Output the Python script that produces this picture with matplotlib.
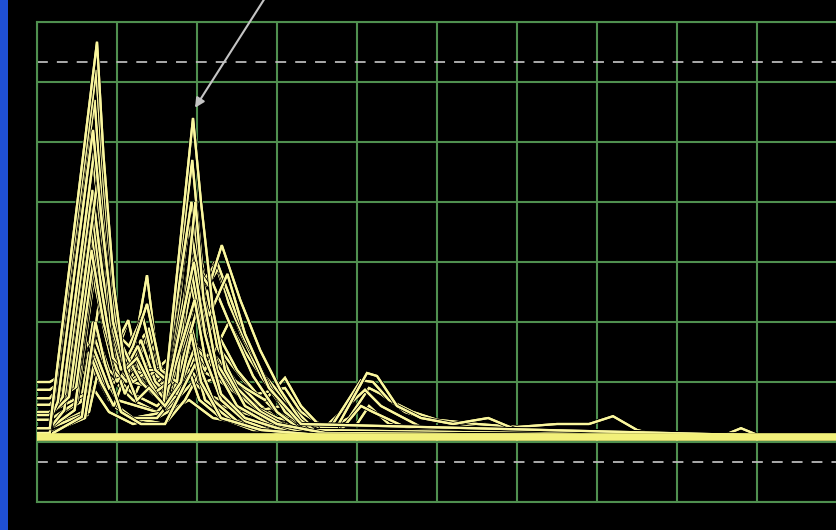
import matplotlib
matplotlib.use("Agg")
import matplotlib.pyplot as plt
import matplotlib.patheffects as pe
from matplotlib.patches import Rectangle

# ---- data (frequency bins 0..100, amplitude 0..80; 10 units per grid division) ----
baseline_level = 10.8
ref_levels = [73.3, 6.7]

t01_f = [0, 1.6, 7.5, 8.3, 9.6, 11, 12.5, 14, 16, 18, 19.3, 20.5, 23, 28, 35, 100]
t01_a = [12.3, 12.3, 76.7, 58, 36, 22, 17, 19, 16, 20, 28, 20, 14, 12, 11.2, 10.8]

t02_f = [0, 1.6, 2.6, 7.0, 8.0, 9.5, 11, 12.5, 14, 15.8, 19.5, 20.5, 22, 23.5, 26, 30, 36, 100]
t02_a = [13.7, 13.7, 16.7, 62, 48, 30, 22, 24, 20, 16, 64, 50, 32, 22, 16, 13, 11.5, 10.8]

t03_f = [0, 1.6, 7.4, 8.4, 10, 11.4, 13, 14.5, 16.5, 19.6, 21, 23, 26, 32, 100]
t03_a = [11.5, 11.5, 72, 52, 28, 24, 20, 18, 20, 40, 28, 18, 14, 11.5, 10.8]

t04_f = [0, 1.6, 3.5, 6.9, 8.2, 10, 12, 14, 16.2, 19.3, 20.5, 21.5, 23.1, 25.4, 27.9, 30.4, 32.9, 35.4, 100]
t04_a = [15, 15, 18, 52, 38, 24, 20, 22, 22, 50, 38, 36, 42.8, 33.7, 25.3, 18.7, 13.7, 11.2, 10.8]

t05_f = [0, 1.6, 3.3, 7.0, 8.5, 10.2, 12, 14, 16.5, 19.0, 20.3, 22.5, 25, 28, 31, 34, 100]
t05_a = [16.2, 16.2, 19.2, 57, 40, 26, 22, 21, 24, 46, 36, 40, 31, 22, 15, 12, 10.8]

t06_f = [0, 1.6, 4.0, 6.6, 8, 9.8, 11.4, 13, 15, 17, 18.9, 20, 21.8, 24, 27, 30, 33, 100]
t06_a = [17.3, 17.3, 20.3, 46, 36, 24, 30.3, 22, 19, 22, 38, 32, 37, 30, 21, 15, 12, 10.8]

t07_f = [0, 1.6, 4.45, 6.8, 8.3, 10, 11.2, 12.2, 13.75, 15.2, 16.5, 19.1, 20.5, 22, 25, 29, 34, 100]
t07_a = [16.2, 16.2, 19.2, 42, 30, 22, 20, 26, 37.8, 22, 19, 40, 30, 24, 18, 14, 11.5, 10.8]

t08_f = [0, 1.6, 3.4, 7.0, 8.4, 9.8, 11.4, 12.8, 14.5, 16, 19.4, 20.6, 22.5, 25, 28, 32, 100]
t08_a = [17.3, 17.3, 20.3, 57, 40, 26, 30.3, 22, 19, 20, 57, 40, 26, 19, 15, 12, 10.8]

t09_f = [0, 1.6, 7.2, 8.2, 9.6, 11, 12.6, 14.3, 16, 19.7, 21, 23, 26, 30, 100]
t09_a = [11.5, 11.5, 67, 48, 28, 22, 26, 20, 17, 33.7, 24, 17, 13.5, 11.5, 10.8]

t10_f = [0, 1.6, 4.5, 7.0, 8.3, 9.8, 11.5, 13.5, 15.5, 17, 19.6, 21, 23, 26, 28.5, 31, 33, 35.5, 37.5,
         41.25, 42.5, 45, 48, 52, 56.4, 60, 100]
t10_a = [18.7, 18.7, 21.7, 46, 34, 24, 20, 22, 18, 20, 38, 28, 22, 19, 17, 20.7, 16, 12.5, 12.5,
         21.5, 21, 16, 14, 13, 14, 12, 10.8]

t11_f = [0, 1.6, 5.4, 7.2, 8.5, 10, 12, 14.5, 17, 20.2, 22, 24, 27, 30, 34, 36.5, 40.5, 42, 44, 47, 50,
         55, 60, 65, 69, 72, 75, 78, 100]
t11_a = [20, 20, 23, 40, 30, 21, 22, 18, 18, 33, 24, 19, 16, 14, 13, 12, 20.3, 20, 17, 15, 13.7,
         13, 12.5, 13, 13, 14.3, 12, 11, 10.8]

t12_f = [0, 1.6, 3.4, 6.8, 8, 9.5, 11, 13, 14.8, 16.4, 19.3, 20.3, 21.3, 22.7, 24, 26, 28.5, 31, 34, 100]
t12_a = [12.3, 12.3, 15.3, 50, 36, 24, 22, 27, 20, 18, 50, 40, 36, 39, 33, 27, 21, 17, 13, 10.8]

t13_f = [0, 1.6, 5.6, 7.3, 8.5, 10.5, 13, 16, 19.8, 21, 24, 28, 34, 38, 40.5, 42, 46, 52, 100]
t13_a = [10.8, 11.2, 14.2, 30, 23, 15, 13, 13, 23, 17, 14, 12.5, 11.5, 12, 16, 15, 12.5, 11.5, 10.8]

t14_f = [0, 1.6, 5.0, 7.6, 8.8, 10.2, 12, 13.5, 15, 17, 20, 21.2, 23, 25, 27.5, 31, 33, 36, 41, 43, 48, 100]
t14_a = [13.7, 13.7, 16.7, 42, 33, 22, 25, 28, 21, 19, 35, 30, 27, 22, 18, 19, 15, 12.5, 18.7, 16, 12.5, 10.8]

t15_f = [0, 1.6, 6.1, 7.8, 9.2, 11, 12.8, 14, 15.5, 17.5, 19.5, 21, 22.5, 24, 26, 29, 32, 35, 38, 100]
t15_a = [15, 15, 18, 33.7, 25, 18, 24, 29, 20, 18, 25, 22, 26, 30, 25, 19, 14, 12, 11.2, 10.8]

t16_f = [0, 1.6, 4.9, 7.4, 8.6, 10, 12, 14.5, 16.5, 19.8, 21, 22.2, 23.5, 25.5, 28, 30.5, 33, 36, 100]
t16_a = [16.2, 16.2, 19.2, 44, 32, 22, 20, 19, 22, 42, 36, 40, 35, 28, 21, 16, 13, 11.5, 10.8]

t17_f = [0, 1.6, 3.2, 7.3, 8.1, 9.2, 10.5, 12, 13.75, 15.5, 17.5, 19.8, 20.8, 22.5, 25, 29, 34, 100]
t17_a = [14.5, 14.5, 17.5, 60, 48, 30, 22, 26, 33, 22, 20, 50, 34, 22, 16, 13, 11.5, 10.8]

t18_f = [0, 1.6, 6.0, 7, 9, 12, 15, 18, 19.5, 21, 22.5, 25, 28, 31, 34, 100]
t18_a = [18.7, 18.7, 21.7, 30, 22, 18, 16, 20, 28, 22, 24, 20, 16, 13, 11.5, 10.8]

t19_f = [0, 1.6, 6.3, 7, 9, 12, 15, 18, 19.6, 21, 23, 26, 29, 32, 35, 100]
t19_a = [20, 20, 23, 28, 21, 17, 15, 19, 24, 20, 21, 17.5, 14.5, 12.5, 11.3, 10.8]

t20_f = [0, 1.6, 6.3, 7, 9, 12, 15, 19, 22, 26, 30, 35, 40, 41.5, 44, 50, 56, 58, 62, 100]
t20_a = [11.5, 11.5, 14.5, 19, 15, 13, 14, 17, 14, 13, 12.5, 11.8, 13, 16, 13, 12, 13, 12.3, 11.5, 10.8]

t21_f = [0, 1.6, 6.1, 7, 9, 12, 16, 19.5, 23, 27, 30.5, 33, 36, 39, 41.5, 43, 46, 49, 53, 58, 64, 68,
         86, 88, 90, 100]
t21_a = [12.3, 12.3, 15.3, 22, 17, 14, 15, 20, 16, 15, 16, 13.5, 12, 14, 19, 18, 15, 13.7, 13, 12.3, 12, 11.5,
         11.2, 12.3, 11.2, 10.8]

t22_f = [0, 1.6, 5.1, 6, 8, 10, 12.5, 15, 17, 19.3, 21, 23, 25.5, 28, 31, 35, 100]
t22_a = [17.3, 17.3, 20.3, 27, 22, 17, 16, 15, 18, 22, 18, 17, 15, 14, 12.5, 11.5, 10.8]

t23_f = [0, 1.6, 4.7, 7.0, 8.5, 10, 11.6, 13, 14.6, 16.5, 19.2, 20.5, 22, 25, 28, 100]
t23_a = [12.3, 12.3, 15.3, 38, 28, 20, 24, 20, 26, 19, 30, 22, 17, 13.5, 12, 10.8]

t24_f = [0, 1.6, 5.5, 6.5, 8, 9.6, 11, 12.3, 14, 16, 19, 20.3, 23, 27, 100]
t24_a = [13.7, 13.7, 16.7, 25, 20, 16, 21, 18, 23, 17, 22, 17, 14, 12, 10.8]

t25_f = [0, 1.6, 4.0, 7.6, 8.6, 10, 11.5, 13.2, 14.8, 16.5, 18.5, 19.4, 20.3, 21.5, 23.8, 26, 29, 33, 100]
t25_a = [14.5, 14.5, 17.5, 54, 42, 28, 26, 31, 22, 20, 35, 44, 37, 31, 38, 28, 19, 13, 10.8]

t26_f = [0, 1.6, 6, 7.2, 9, 12, 15, 17.5, 19.8, 21.5, 24, 28, 32, 36, 100]
t26_a = [11.5, 11.5, 14, 24, 17, 14, 14, 18, 26, 24, 20, 15, 12.5, 11.3, 10.8]

t27_f = [0, 1.6, 6.5, 7.5, 9.5, 12, 16, 18.5, 20.5, 23, 27, 31, 35, 100]
t27_a = [12.3, 12.3, 15, 21, 16, 14, 13, 17, 22, 20, 16, 13, 11.5, 10.8]

t28_f = [0, 1.6, 5.8, 7, 9, 11, 13.75, 16, 19, 21, 22.5, 26, 30, 34, 100]
t28_a = [15, 15, 18, 26, 19, 22, 27, 18, 27, 24, 26, 20, 15, 12, 10.8]

series = [
    (t19_f, t19_a), (t18_f, t18_a), (t22_f, t22_a), (t21_f, t21_a), (t20_f, t20_a),
    (t27_f, t27_a), (t26_f, t26_a), (t28_f, t28_a),
    (t24_f, t24_a), (t15_f, t15_a), (t14_f, t14_a), (t13_f, t13_a), (t23_f, t23_a),
    (t11_f, t11_a), (t10_f, t10_a), (t16_f, t16_a), (t06_f, t06_a), (t07_f, t07_a),
    (t08_f, t08_a), (t12_f, t12_a), (t05_f, t05_a), (t04_f, t04_a), (t25_f, t25_a),
    (t17_f, t17_a), (t09_f, t09_a), (t03_f, t03_a), (t02_f, t02_a), (t01_f, t01_a),
]

# ---- figure ----
W, H = 836, 530
fig = plt.figure(figsize=(W / 100, H / 100), dpi=100, facecolor="black")
ax = fig.add_axes([37 / W, (H - 502) / H, 800 / W, 480 / H], facecolor="black")
ax.set_xlim(0, 100)
ax.set_ylim(0, 80)

grid_color = "#4f8f4f"
ax.set_xticks(range(0, 101, 10))
ax.set_yticks(range(0, 81, 10))
ax.grid(True, color=grid_color, linewidth=1.5)
ax.tick_params(length=0, labelbottom=False, labelleft=False)
for sp in ax.spines.values():
    sp.set_color(grid_color)
    sp.set_linewidth(1.5)
ax.spines["right"].set_visible(False)

for lvl in ref_levels:
    ax.axhline(lvl, color="#b8b8b8", linewidth=1.3, dashes=(6, 5), zorder=2)

trace_color = "#fbf79e"
stroke = [pe.withStroke(linewidth=2.9, foreground="black"), pe.Normal()]
for f, a in series:
    ax.plot(f, a, color=trace_color, linewidth=1.6, zorder=3, path_effects=stroke,
            solid_joinstyle="miter")

ax.axhline(baseline_level, color="#f2f07a", linewidth=5.5, zorder=4)

# arrow pointing at second peak
ax.annotate("", xy=(19.75, 65.7), xytext=(28.5, 84.0), annotation_clip=False,
            arrowprops=dict(arrowstyle="-|>", color="#c4c4c4", lw=1.5,
                            mutation_scale=14, shrinkA=0, shrinkB=0), zorder=5)

# blue side bar
fig.patches.append(Rectangle((0, 0), 8 / W, 1, transform=fig.transFigure,
                             facecolor="#1f50d6", edgecolor="none"))

fig.savefig("out.png", dpi=100, facecolor="black")
